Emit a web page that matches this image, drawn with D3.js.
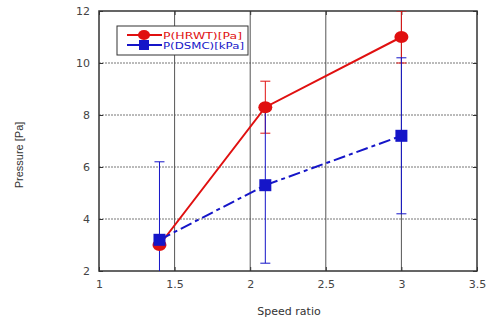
<!DOCTYPE html>
<html><head><meta charset="utf-8">
<script src="https://cdn.jsdelivr.net/npm/d3@7"></script>
<style>body{margin:0;background:#fff}svg{display:block}text{font-family:"DejaVu Sans",sans-serif}</style>
</head><body>
<script>
const speedRatio = [1.4, 2.1, 3.0];
const hrwt = [3.0, 8.3, 11.0];
const hrwtErr = [0, 1.0, 1.0];
const dsmc = [3.2, 5.3, 7.2];
const dsmcErr = [3.0, 3.0, 3.0];
const xTicks = [1, 1.5, 2, 2.5, 3, 3.5];
const yTicks = [2, 4, 6, 8, 10, 12];
const seriesNames = ["P(HRWT)[Pa]", "P(DSMC)[kPa]"];

const W = 486, H = 320;
const svg = d3.select("body").append("svg").attr("width", W).attr("height", H);
const x = d3.scaleLinear().domain([1, 3.5]).range([99, 477]);
const y = d3.scaleLinear().domain([2, 12]).range([271, 11]);

const defs = svg.append("defs");
defs.append("clipPath").attr("id","clip").append("rect")
  .attr("x", x(1)).attr("y", y(12)).attr("width", x(3.5)-x(1)).attr("height", y(2)-y(12));

// grid
const g = svg.append("g");
g.selectAll(".hg").data(yTicks.slice(1,-1)).join("line")
  .attr("x1", x(1)).attr("x2", x(3.5)).attr("y1", d=>y(d)).attr("y2", d=>y(d))
  .attr("stroke", "#777").attr("stroke-width", 1).attr("stroke-dasharray", "2,1");
g.selectAll(".vg").data(xTicks.slice(1,-1)).join("line")
  .attr("y1", y(2)).attr("y2", y(12)).attr("x1", d=>x(d)).attr("x2", d=>x(d))
  .attr("stroke", "#555").attr("stroke-width", 1);

// axes
const ax = svg.append("g").attr("transform", `translate(0,${y(2)})`)
  .call(d3.axisBottom(x).tickValues(xTicks).tickFormat(d3.format("")).tickSize(-4).tickPadding(9));
const ay = svg.append("g").attr("transform", `translate(${x(1)},0)`)
  .call(d3.axisLeft(y).tickValues(yTicks).tickSize(-4).tickPadding(9));
const axT = svg.append("g").attr("transform", `translate(0,${y(12)})`)
  .call(d3.axisTop(x).tickValues(xTicks).tickSize(-4).tickFormat(""));
const ayR = svg.append("g").attr("transform", `translate(${x(3.5)},0)`)
  .call(d3.axisRight(y).tickValues(yTicks).tickSize(-4).tickFormat(""));
[ax, ay, axT, ayR].forEach(a => {
  a.select(".domain").remove();
  a.selectAll(".tick line").attr("stroke", "#333");
  a.selectAll("text").attr("fill", "#444").style("font-size", "11px");
});
svg.append("rect").attr("x", x(1)).attr("y", y(12)).attr("width", x(3.5)-x(1)).attr("height", y(2)-y(12))
  .attr("fill", "none").attr("stroke", "#333").attr("stroke-width", 1.5);

const plot = svg.append("g").attr("clip-path", "url(#clip)");
const red = "#e01010", blue = "#1515c8";

function errBars(vals, errs, color) {
  const gg = plot.append("g");
  speedRatio.forEach((sx, i) => {
    if (!errs[i]) return;
    const lo = vals[i]-errs[i], hi = vals[i]+errs[i];
    gg.append("line").attr("x1", x(sx)).attr("x2", x(sx)).attr("y1", y(lo)).attr("y2", y(hi)).attr("stroke", color).attr("stroke-width", 1);
    [lo, hi].forEach(v => gg.append("line").attr("x1", x(sx)-5).attr("x2", x(sx)+5).attr("y1", y(v)).attr("y2", y(v)).attr("stroke", color).attr("stroke-width", 1));
  });
}
errBars(hrwt, hrwtErr, red);
errBars(dsmc, dsmcErr, blue);

const line = d3.line().x((d,i)=>x(speedRatio[i])).y(d=>y(d));
plot.append("path").datum(hrwt).attr("d", line).attr("fill","none").attr("stroke", red).attr("stroke-width", 2);
plot.append("path").datum(dsmc).attr("d", line).attr("fill","none").attr("stroke", blue).attr("stroke-width", 2).attr("stroke-dasharray","12,4,4,4");

plot.selectAll(".rm").data(hrwt).join("ellipse")
  .attr("cx", (d,i)=>x(speedRatio[i])).attr("cy", d=>y(d)).attr("rx", 7).attr("ry", 6).attr("fill", red);
plot.selectAll(".bm").data(dsmc).join("rect")
  .attr("x", (d,i)=>x(speedRatio[i])-6).attr("y", d=>y(d)-6).attr("width", 12).attr("height", 12).attr("fill", blue);

// legend
const lg = svg.append("g");
lg.append("rect").attr("x", 117).attr("y", 26).attr("width", 131).attr("height", 29).attr("fill","#fff").attr("stroke","#333").attr("stroke-width",1);
const colors = [red, blue];
seriesNames.forEach((nm, i) => {
  const ly = 35 + i*10;
  lg.append("line").attr("x1", 127).attr("x2", 162).attr("y1", ly).attr("y2", ly).attr("stroke", colors[i]).attr("stroke-width", 2);
  if (i===0) lg.append("ellipse").attr("cx", 144).attr("cy", ly).attr("rx", 6).attr("ry", 5).attr("fill", red);
  else lg.append("rect").attr("x", 139).attr("y", ly-5).attr("width", 10).attr("height", 10).attr("fill", blue);
  lg.append("text").attr("x", 163).attr("y", ly+3.5).attr("fill", colors[i]).style("font-size","9.5px")
    .attr("textLength", i===0 ? 79 : 81).attr("lengthAdjust", "spacingAndGlyphs").text(nm);
});

svg.append("text").attr("transform", "translate(23,155) rotate(-90)").attr("text-anchor","middle")
  .attr("fill","#333").style("font-size","11px").style("font-family","'Liberation Sans Narrow','Liberation Sans',sans-serif").text("Pressure [Pa]");
svg.append("text").attr("x", 289).attr("y", 315).attr("text-anchor","middle")
  .attr("fill","#333").style("font-size","11px").text("Speed ratio");
</script>
</body></html>
